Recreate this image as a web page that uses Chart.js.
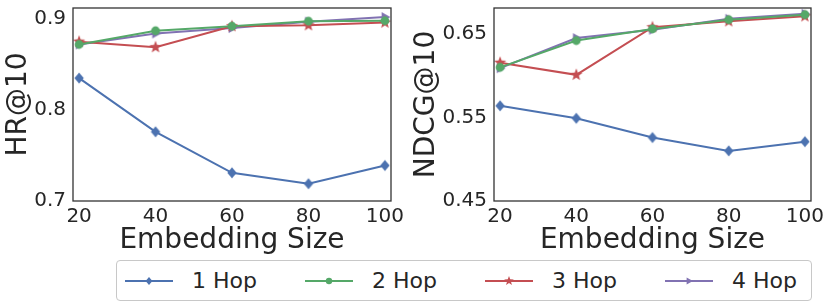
<!DOCTYPE html>
<html>

<head>
    <title>Embedding size vs HR / NDCG</title>
    <script src="https://cdn.jsdelivr.net/npm/chart.js"></script>
    <style>
        body { margin: 0; width: 830px; height: 307px; background: #fff; position: relative; overflow: hidden;
               font-family: "DejaVu Sans", sans-serif; color: #262626; }
        .box { position: absolute; top: 0; height: 255px; }
        #legend { position: absolute; left: 116px; top: 260px; width: 694px; height: 39px;
                  border: 1px solid #c8c8c8; border-radius: 4px; }
        .item { position: absolute; top: 0; height: 39px; display: flex; align-items: center; font-size: 22px; }
        .item canvas { margin-right: 19px; }
    </style>
</head>

<body>
    <div class="box" style="left:0;width:405px"><canvas id="hrChart"></canvas></div>
    <div class="box" style="left:410px;width:420px"><canvas id="ndcgChart"></canvas></div>
    <div id="legend"></div>

    <script>
        var sizes = [20, 40, 60, 80, 100];
        var hops = ['1 Hop', '2 Hop', '3 Hop', '4 Hop'];
        var colors = ['#4C72B0', '#55A868', '#C44E52', '#8172B2'];

        // HR@10 per hop count
        var hr1 = [0.835, 0.776, 0.731, 0.719, 0.739];
        var hr2 = [0.872, 0.887, 0.892, 0.8975, 0.898];
        var hr3 = [0.875, 0.869, 0.892, 0.893, 0.896];
        var hr4 = [0.872, 0.884, 0.890, 0.897, 0.902];

        // NDCG@10 per hop count
        var ndcg1 = [0.564, 0.549, 0.526, 0.510, 0.521];
        var ndcg2 = [0.610, 0.642, 0.656, 0.667, 0.673];
        var ndcg3 = [0.6155, 0.601, 0.658, 0.665, 0.671];
        var ndcg4 = [0.609, 0.645, 0.655, 0.668, 0.674];

        var hrTicks = [0.7, 0.8, 0.9];
        var ndcgTicks = [0.45, 0.55, 0.65];

        // draw one marker shape on a 2d context
        function drawMarker(c, kind, x, y, r, color) {
            c.fillStyle = color;
            c.beginPath();
            if (kind === 'diamond') {
                c.moveTo(x, y - r); c.lineTo(x + r * 0.85, y); c.lineTo(x, y + r); c.lineTo(x - r * 0.85, y);
            } else if (kind === 'circle') {
                c.arc(x, y, r * 0.8, 0, Math.PI * 2);
            } else if (kind === 'star') {
                for (var i = 0; i < 10; i++) {
                    var rr = i % 2 ? r * 0.42 : r;
                    var a = -Math.PI / 2 + i * Math.PI / 5;
                    c.lineTo(x + rr * Math.cos(a), y + rr * Math.sin(a));
                }
            } else {
                c.moveTo(x + r, y); c.lineTo(x - r * 0.6, y - r * 0.9); c.lineTo(x - r * 0.6, y + r * 0.9);
            }
            c.closePath();
            c.fill();
        }

        var kinds = ['diamond', 'circle', 'star', 'triangle'];
        var markerImgs = kinds.map(function (k, i) {
            var cv = document.createElement('canvas');
            cv.width = 14; cv.height = 14;
            drawMarker(cv.getContext('2d'), k, 7, 7, k === 'star' ? 6.5 : 5.5, colors[i]);
            return cv;
        });

        var framePlugin = {
            id: 'frame',
            afterDraw: function (chart) {
                var a = chart.chartArea, c = chart.ctx;
                c.save();
                c.strokeStyle = '#333';
                c.lineWidth = 1.3;
                c.strokeRect(a.left, a.top, a.right - a.left, a.bottom - a.top);
                c.restore();
            }
        };

        function makeChart(id, series, yMin, yMax, yTicks, digits, yTitle, yWidth, padRight, titlePad) {
            var datasets = series.map(function (vals, i) {
                return {
                    label: hops[i],
                    data: vals.map(function (v, j) { return { x: sizes[j], y: v }; }),
                    borderColor: colors[i],
                    backgroundColor: colors[i],
                    borderWidth: 2,
                    pointStyle: markerImgs[i],
                    pointRadius: 6
                };
            });
            return new Chart(document.getElementById(id), {
                type: 'line',
                data: { datasets: datasets },
                options: {
                    responsive: true,
                    maintainAspectRatio: false,
                    animation: false,
                    layout: { padding: { top: 5, right: padRight, left: 0, bottom: 0 } },
                    plugins: { legend: { display: false }, tooltip: { enabled: false } },
                    scales: {
                        x: {
                            type: 'linear',
                            min: 18.4,
                            max: 101.6,
                            afterBuildTicks: function (s) { s.ticks = sizes.map(function (v) { return { value: v }; }); },
                            afterFit: function (s) { s.height = 54; s.paddingLeft = 0; s.paddingRight = 0; },
                            grid: { display: false, drawTicks: false },
                            border: { display: false },
                            ticks: { color: '#262626', padding: 4, font: { family: 'DejaVu Sans', size: 20 } },
                            title: {
                                display: true, text: 'Embedding Size', color: '#262626', padding: 0,
                                font: { family: 'DejaVu Sans', size: 28, lineHeight: 1 }
                            }
                        },
                        y: {
                            min: yMin,
                            max: yMax,
                            afterBuildTicks: function (s) { s.ticks = yTicks.map(function (v) { return { value: v }; }); },
                            afterFit: function (s) { s.width = yWidth; s.paddingTop = 0; s.paddingBottom = 0; },
                            grid: { display: false, drawTicks: false },
                            border: { display: false },
                            ticks: {
                                color: '#262626', padding: 7, font: { family: 'DejaVu Sans', size: 20 },
                                callback: function (v) { return v.toFixed(digits); }
                            },
                            title: {
                                display: true, text: yTitle, color: '#262626', padding: { top: titlePad, bottom: 0 },
                                font: { family: 'DejaVu Sans', size: 28, lineHeight: 1 }
                            }
                        }
                    }
                },
                plugins: [framePlugin]
            });
        }

        makeChart('hrChart', [hr1, hr2, hr3, hr4], 0.7, 0.912, hrTicks, 1, 'HR@10', 73, 14, 5);
        makeChart('ndcgChart', [ndcg1, ndcg2, ndcg3, ndcg4], 0.45, 0.681, ndcgTicks, 2, 'NDCG@10', 84, 19, 3);

        // legend below both panels
        var legend = document.getElementById('legend');
        hops.forEach(function (name, i) {
            var item = document.createElement('div');
            item.className = 'item';
            item.style.left = (8 + i * 180) + 'px';
            var cv = document.createElement('canvas');
            cv.width = 48; cv.height = 14;
            var c = cv.getContext('2d');
            c.strokeStyle = colors[i];
            c.lineWidth = 2;
            c.beginPath(); c.moveTo(0, 7); c.lineTo(48, 7); c.stroke();
            drawMarker(c, kinds[i], 24, 7, kinds[i] === 'star' ? 5 : 4, colors[i]);
            item.appendChild(cv);
            var label = document.createElement('span');
            label.textContent = name;
            item.appendChild(label);
            legend.appendChild(item);
        });
    </script>

</body>

</html>
